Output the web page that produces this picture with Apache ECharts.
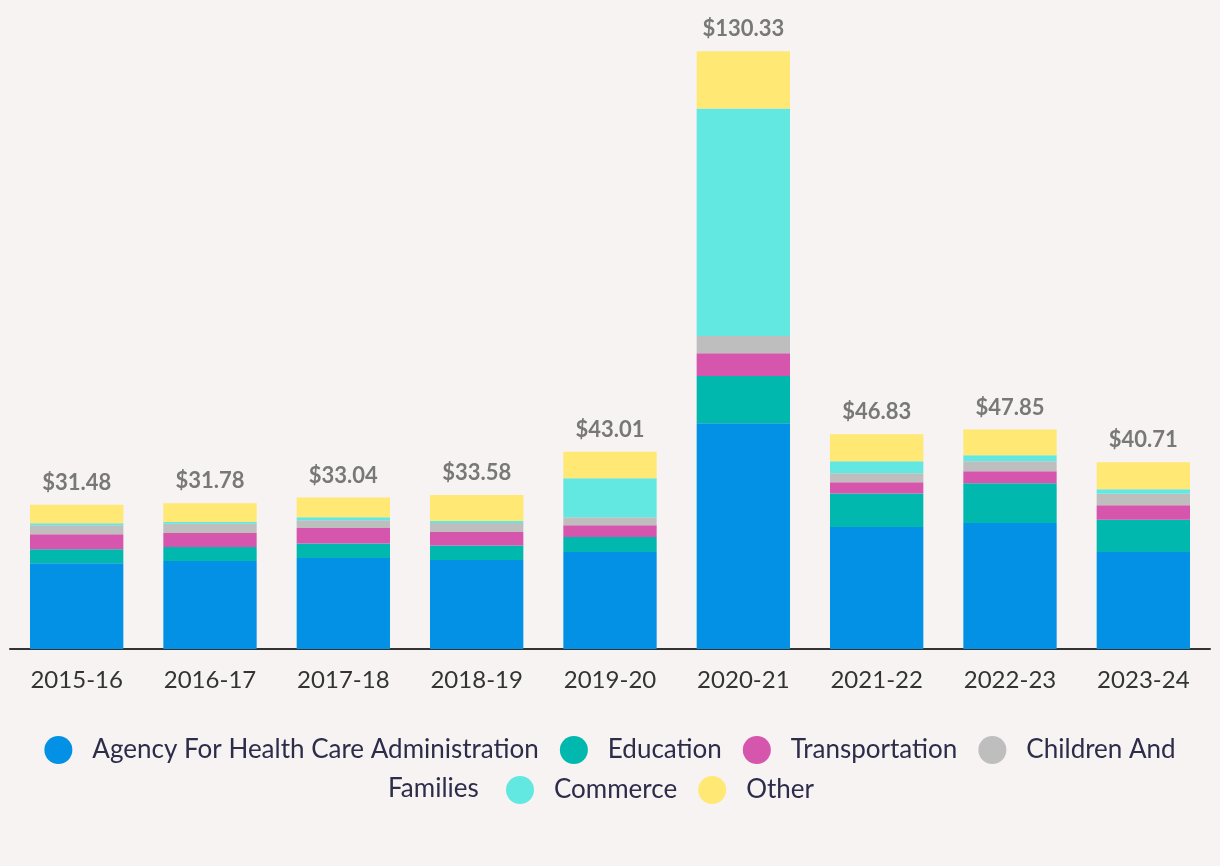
<!DOCTYPE html>
<html>
<head>
<meta charset="utf-8">
<script src="https://cdn.jsdelivr.net/npm/echarts@6/dist/echarts.min.js"></script>
<style>
html,body{margin:0;padding:0;background:#f7f3f2;}
#chart{width:1220px;height:866px;}
</style>
</head>
<body>
<div id="chart"></div>
<script>
var categories = ['2015-16','2016-17','2017-18','2018-19','2019-20','2020-21','2021-22','2022-23','2023-24'];
var totals = [31.48, 31.78, 33.04, 33.58, 43.01, 130.33, 46.83, 47.85, 40.71];
var healthCare = [18.70, 19.17, 19.83, 19.39, 21.13, 49.24, 26.58, 27.45, 21.13];
var education = [3.05, 3.05, 3.20, 3.20, 3.27, 10.30, 7.34, 8.71, 7.04];
var transportation = [3.27, 3.05, 3.33, 2.90, 2.61, 4.94, 2.46, 2.61, 3.20];
var childrenFamilies = [1.96, 2.03, 1.74, 1.96, 1.74, 3.77, 1.96, 2.18, 2.46];
var commerce = [0.44, 0.37, 0.65, 0.44, 8.50, 49.60, 2.61, 1.31, 1.02];
var other = [4.06, 4.11, 4.29, 5.69, 5.76, 12.48, 5.88, 5.59, 5.86];

var seriesNames = ['Agency For Health Care Administration','Education','Transportation','Children And Families','Commerce','Other'];
var colors = ['#0391e6','#00b8ad','#d655ad','#bebebe','#62e8e0','#ffe873'];
var dataSets = [healthCare, education, transportation, childrenFamilies, commerce, other];

var FONT = 'Lato, "Noto Sans", sans-serif';

var series = seriesNames.map(function (n, i) {
  var s = {
    name: n,
    type: 'bar',
    stack: 'total',
    barWidth: '70%',
    itemStyle: { color: colors[i] },
    emphasis: { disabled: true },
    data: dataSets[i]
  };
  if (i === seriesNames.length - 1) {
    s.label = {
      show: true,
      position: 'top',
      distance: 11,
      fontFamily: FONT,
      fontWeight: 'bold',
      fontSize: 22,
      color: '#787878',
      formatter: function (p) { return '$' + totals[p.dataIndex].toFixed(2); }
    };
  }
  return s;
});

var legendText = { fontFamily: FONT, fontSize: 26, color: '#2d2d4a', padding: [0, 0, 0, 15] };

var chart = echarts.init(document.getElementById('chart'), null, { renderer: 'canvas' });
chart.setOption({
  backgroundColor: '#f7f3f2',
  animation: false,
  color: colors,
  grid: { left: 10, right: 10, top: 7, height: 642, containLabel: false },
  xAxis: {
    type: 'category',
    data: categories,
    axisTick: { show: false },
    axisLine: { lineStyle: { color: '#333333', width: 2 } },
    axisLabel: { margin: 19, fontFamily: FONT, fontSize: 24, color: '#333333' }
  },
  yAxis: {
    type: 'value',
    min: 0,
    max: 140,
    show: false,
    splitLine: { show: false }
  },
  legend: [{
    data: seriesNames.slice(0, 4),
    left: 'center',
    top: 731,
    icon: 'circle',
    itemWidth: 28,
    itemHeight: 28,
    itemGap: 21,
    selectedMode: false,
    formatter: function (n) { return n === 'Children And Families' ? 'Children And' : n; },
    textStyle: legendText
  }, {
    data: seriesNames.slice(4),
    left: 501,
    top: 771,
    icon: 'circle',
    itemWidth: 28,
    itemHeight: 28,
    itemGap: 21,
    selectedMode: false,
    textStyle: legendText
  }],
  graphic: [{
    type: 'text',
    left: 388,
    top: 776,
    style: { text: 'Families', font: '26px ' + FONT, fill: '#2d2d4a' }
  }],
  series: series
});
</script>
</body>
</html>
